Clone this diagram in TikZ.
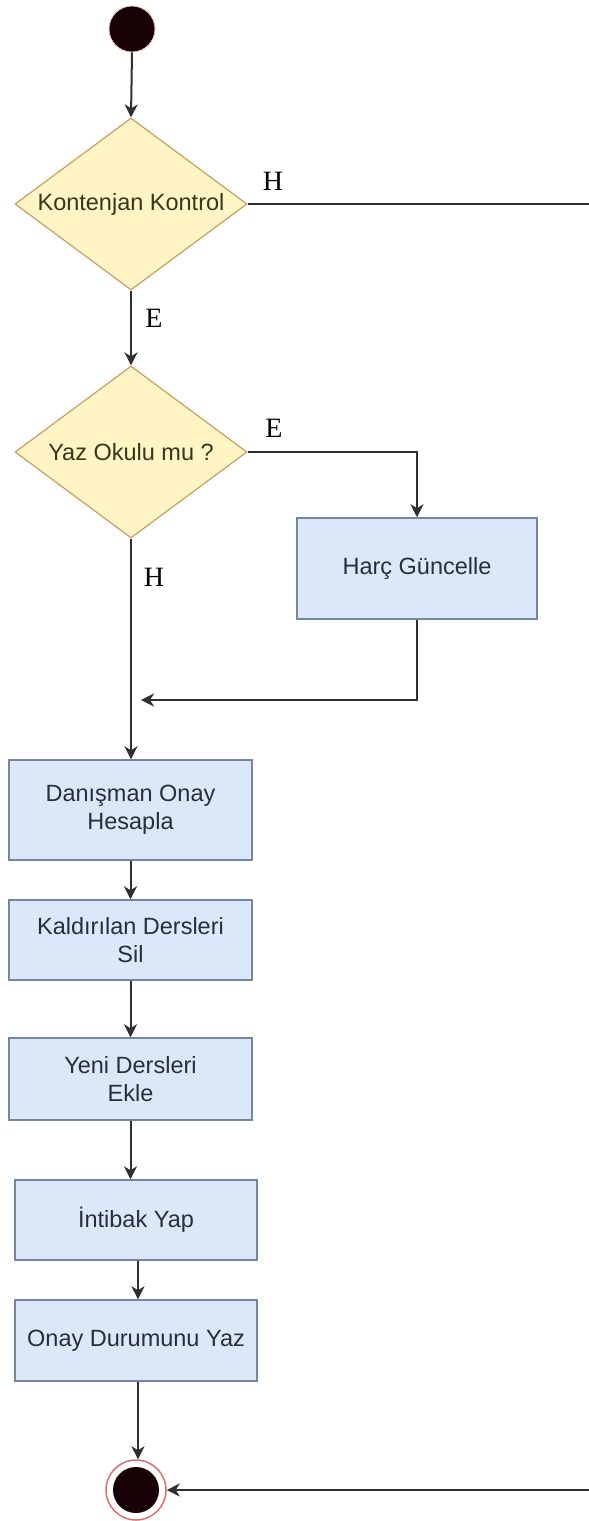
\documentclass[tikz,border=0pt]{standalone}
\usepackage{fontspec}
\setmainfont{Liberation Serif}
\setsansfont{Liberation Sans}
\usetikzlibrary{shapes.geometric,arrows.meta}

\definecolor{flow}{RGB}{48,48,48}
\definecolor{decfill}{RGB}{255,244,196}
\definecolor{decdraw}{RGB}{196,160,100}
\definecolor{dectext}{RGB}{52,56,30}
\definecolor{actfill}{RGB}{218,232,250}
\definecolor{actdraw}{RGB}{118,134,156}
\definecolor{acttext}{RGB}{40,46,58}
\definecolor{ringred}{RGB}{222,110,110}
\definecolor{dotfill}{RGB}{24,2,6}

\begin{document}
\begin{tikzpicture}[x=1pt,y=-1pt,
  decision/.style={diamond, aspect=1.35, minimum width=232pt, minimum height=172pt,
    inner sep=0pt, fill=decfill, draw=decdraw, line width=1.2pt, text=dectext,
    font=\sffamily\fontsize{23.5}{27}\selectfont},
  activity/.style={rectangle, fill=actfill, draw=actdraw, line width=1.5pt,
    text=acttext, align=center, inner sep=0pt,
    font=\sffamily\fontsize{23.5}{28}\selectfont},
  flowline/.style={draw=flow, line width=2pt},
  arrowed/.style={flowline, -{Stealth[length=13pt,width=13pt,inset=4pt]}},
  branch/.style={font=\rmfamily\fontsize{28}{30}\selectfont, text=black, inner sep=0pt},
]
\useasboundingbox (0,0) rectangle (589,1521);

% start and end states
\node[circle, minimum size=46pt, inner sep=0pt, fill=dotfill, draw=ringred!45, line width=0.8pt] (start) at (132,29) {};
\node[circle, minimum size=60pt, inner sep=0pt, fill=white, draw=ringred, line width=1.5pt] (end) at (136,1490) {};
\node[circle, minimum size=46pt, inner sep=0pt, fill=dotfill] (enddot) at (end.center) {};

% decisions
\node[decision] (d1) at (131,204) {Kontenjan Kontrol};
\node[decision] (d2) at (131,452) {Yaz Okulu mu ?};

% activities
\node[activity, minimum width=240pt, minimum height=101pt] (harc) at (417,568.5) {Harç Güncelle};
\node[activity, minimum width=243pt, minimum height=100pt] (dan) at (130.5,810) {Danışman Onay\\Hesapla};
\node[activity, minimum width=243pt, minimum height=80pt] (kal) at (130.5,940) {Kaldırılan Dersleri\\Sil};
\node[activity, minimum width=243pt, minimum height=82pt] (yeni) at (130.5,1079) {Yeni Dersleri\\Ekle};
\node[activity, minimum width=242pt, minimum height=80pt] (intibak) at (136,1220) {İntibak Yap};
\node[activity, minimum width=242pt, minimum height=81pt] (onay) at (136,1340.5) {Onay Durumunu Yaz};

% branch labels
\node[branch] (h1) at (273,181) {H};
\node[branch] (e1) at (154,318) {E};
\node[branch] (e2) at (274,428) {E};
\node[branch] (h2) at (154,577) {H};

\coordinate (merge) at (141,700);

% connectors
\draw[arrowed] (start.south) -- (d1.north);
\draw[arrowed] (d1.south) -- (d2.north);
\draw[arrowed] (d2.east) -| (harc.north);
\draw[arrowed] (harc.south) |- (merge);
\draw[arrowed] (d2.south) -- (d2.south |- dan.north);
\draw[arrowed] (dan.south) -- (kal.north);
\draw[arrowed] (kal.south) -- (yeni.north);
\draw[arrowed] (yeni.south) -- (yeni.south |- intibak.north);
\draw[arrowed] ([xshift=2pt]intibak.south) -- ([xshift=2pt]onay.north);
\draw[arrowed] ([xshift=2pt]onay.south) -- ([xshift=2pt]end.north);
\draw[arrowed] (d1.east) -- ++(370,0) |- (end.east);
\end{tikzpicture}
\end{document}
